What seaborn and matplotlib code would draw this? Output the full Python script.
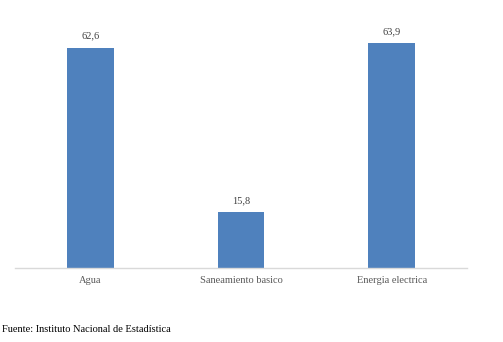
import matplotlib
matplotlib.use("Agg")
import matplotlib.pyplot as plt
import seaborn as sns
import pandas as pd

categories = ["Agua", "Saneamiento basico", "Energia electrica"]
values = [62.6, 15.8, 63.9]
value_labels = ["62,6", "15,8", "63,9"]
source_text = "Fuente: Instituto Nacional de Estadística"

sns.set_theme(style="white")
plt.rcParams['font.family'] = ['Liberation Serif', 'DejaVu Serif']

W, H = 503, 342
fig = plt.figure(figsize=(W / 100, H / 100), dpi=100)
ax = fig.add_axes([15 / W, (H - 268) / H, (467 - 15) / W, (268 - 21.6) / H])

df = pd.DataFrame({"cat": categories, "val": values})
sns.barplot(data=df, x="cat", y="val", color="#4F81BD", saturation=1, width=0.31,
            linewidth=0, ax=ax)

ax.set_xlim(-0.5, 2.5)
ax.set_ylim(0, 70)
ax.set_xlabel("")
ax.set_ylabel("")
ax.set_yticks([])
for s in ["top", "right", "left"]:
    ax.spines[s].set_visible(False)
ax.spines["bottom"].set_color("#D9D9D9")
ax.spines["bottom"].set_linewidth(1)
ax.tick_params(axis="x", length=0, pad=6, labelsize=7.5, labelcolor="#595959")

for i, (v, lab) in enumerate(zip(values, value_labels)):
    ax.annotate(lab, (i, v), xytext=(0, 5), textcoords="offset points",
                ha="center", va="bottom", fontsize=7.5, color="#404040")

fig.text(2 / W, 1 - 329 / H, source_text, ha="left", va="center", fontsize=7.5, color="black")

fig.savefig("out.png", dpi=100)
